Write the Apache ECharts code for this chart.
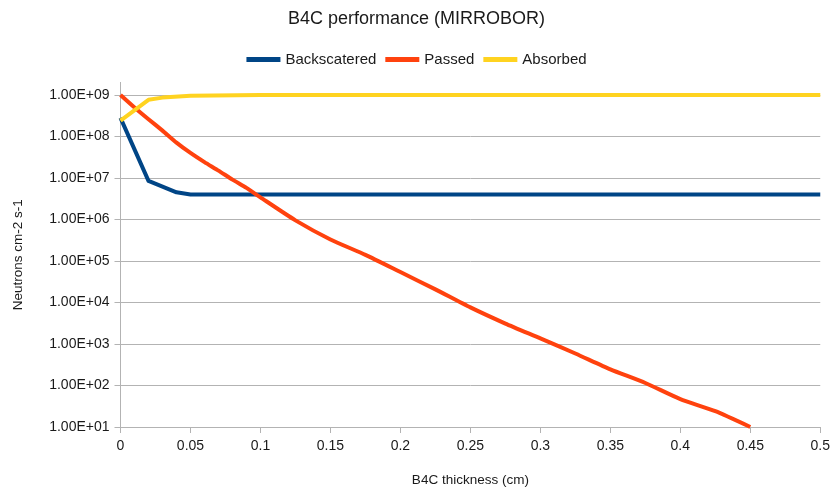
<!DOCTYPE html>
<html>
<head>
<meta charset="utf-8">
<script src="https://cdn.jsdelivr.net/npm/echarts@6/dist/echarts.min.js"></script>
<style>html,body{margin:0;padding:0;background:#fff}#c{width:833px;height:492px}</style>
</head>
<body>
<div id="c"></div>
<script>
const titleText = 'B4C performance (MIRROBOR)';
const seriesNames = ['Backscatered', 'Passed', 'Absorbed'];
const xTitle = 'B4C thickness (cm)';
const yTitle = 'Neutrons cm-2 s-1';

const backX = [0, 0.02, 0.04, 0.05, 0.1, 0.15, 0.2, 0.25, 0.3, 0.35, 0.4, 0.45, 0.5];
const backY = [2.8e8, 8.5e6, 4.5e6, 4.0e6, 4.0e6, 4.0e6, 4.0e6, 4.0e6, 4.0e6, 4.0e6, 4.0e6, 4.0e6, 4.0e6];

const passedX = [0, 0.01, 0.02, 0.03, 0.04, 0.05, 0.06, 0.07, 0.08, 0.09, 0.1,
  0.125, 0.15, 0.175, 0.2, 0.225, 0.25, 0.275, 0.3, 0.325, 0.35, 0.375, 0.4, 0.425, 0.45];
const passedY = [1e9, 5.0e8, 2.6e8, 1.38e8, 7.1e7, 4.0e7, 2.4e7, 1.5e7, 9.1e6, 5.75e6, 3.4e6,
  9.5e5, 3.3e5, 1.4e5, 5.4e4, 2.07e4, 7.6e3, 3.1e3, 1.36e3, 590, 245, 115, 47, 24, 10];

const absX = [0, 0.02, 0.03, 0.05, 0.1, 0.15, 0.2, 0.25, 0.3, 0.35, 0.4, 0.45, 0.5];
const absY = [2.4e8, 7.6e8, 8.6e8, 9.6e8, 1e9, 1e9, 1e9, 1e9, 1e9, 1e9, 1e9, 1e9, 1e9];

const colors = ['#004586', '#ff420e', '#ffd320'];

function pairs(xs, ys) { return xs.map((x, i) => [x, ys[i]]); }
function sciFmt(v) {
  const e = Math.round(Math.log10(v));
  if (Math.abs(Math.log10(v) - e) > 1e-6) return '';
  const m = v / Math.pow(10, e);
  return m.toFixed(2) + 'E' + (e < 0 ? '-' : '+') + String(Math.abs(e)).padStart(2, '0');
}

const chart = echarts.init(document.getElementById('c'), null, { renderer: 'canvas' });
const font = 'Liberation Sans';
const lineStyleGrey = { color: '#b3b3b3', width: 1 };
const mk = (name, data, color, smooth) => ({
  name, type: 'line', data, showSymbol: false, symbol: 'none', smooth: smooth || false,
  lineStyle: { color, width: 4, join: 'round' }, itemStyle: { color },
  animation: false
});
chart.setOption({
  animation: false,
  color: colors,
  textStyle: { fontFamily: font },
  title: { text: titleText, left: 'center', top: 5,
    textStyle: { fontFamily: font, fontSize: 18, fontWeight: 'normal', color: '#1a1a1a' } },
  legend: { top: 47, left: 'center', itemWidth: 34, itemHeight: 5, itemGap: 9,
    icon: 'rect', textStyle: { fontFamily: font, fontSize: 15, color: '#1a1a1a' },
    data: seriesNames },
  grid: { left: 120.5, right: 12.5, top: 82.4, bottom: 62, containLabel: false },
  xAxis: {
    type: 'value', min: 0, max: 0.5, interval: 0.05,
    name: xTitle, nameLocation: 'middle', nameGap: 46,
    nameTextStyle: { fontFamily: font, fontSize: 13.5, color: '#1a1a1a' },
    axisLine: { lineStyle: lineStyleGrey },
    axisTick: { show: true, length: 6, lineStyle: lineStyleGrey },
    axisLabel: { fontFamily: font, fontSize: 14, color: '#1a1a1a', margin: 12 },
    splitLine: { show: false }
  },
  yAxis: {
    type: 'log', logBase: 10, min: 10, max: 2e9, interval: 1,
    name: yTitle, nameLocation: 'middle', nameGap: 95,
    nameTextStyle: { fontFamily: font, fontSize: 13.5, color: '#1a1a1a' },
    axisLine: { show: true, lineStyle: lineStyleGrey },
    axisTick: { show: true, length: 6, lineStyle: lineStyleGrey },
    axisLabel: { fontFamily: font, fontSize: 14, color: '#1a1a1a', margin: 11,
      showMaxLabel: false, formatter: sciFmt },
    splitLine: { show: true, showMaxLine: false, showMinLine: false, lineStyle: lineStyleGrey }
  },
  series: [
    mk(seriesNames[0], pairs(backX, backY), colors[0]),
    mk(seriesNames[1], pairs(passedX, passedY), colors[1], 0.2),
    mk(seriesNames[2], pairs(absX, absY), colors[2])
  ]
});
</script>
</body>
</html>
